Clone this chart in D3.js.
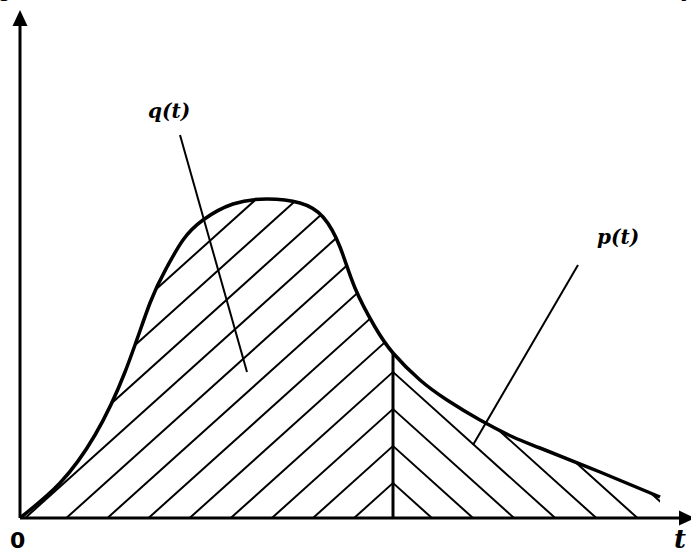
<!DOCTYPE html>
<html>
<head>
	<meta charset="utf-8">
	<script src="https://cdn.jsdelivr.net/npm/d3@7"></script>
	<style>
		body { margin: 0; background: #fff; }
		svg { display: block; }
		.lbl { font-family: "DejaVu Serif", serif; font-weight: bold; font-style: italic; }
	</style>
</head>
<body>
	<svg width="691" height="554"></svg>

	<script>
		// curve (t, value)
		var tValues = [0, 0.8, 1.5, 2.1, 2.6, 2.94, 3.26, 3.66, 4.26, 4.94, 5.6, 6.06, 6.4, 6.7, 7.1, 7.46, 8.0, 8.54, 9.2, 9.86, 10.4, 11.6, 12.8];
		var yValues = [0, 0.7, 1.66, 2.92, 4.3, 5.02, 5.56, 5.96, 6.28, 6.38, 6.3, 6.02, 5.42, 4.6, 3.82, 3.3, 2.76, 2.36, 1.96, 1.62, 1.4, 0.92, 0.42];
		var splitT = 7.46;

		// labels and their leader lines
		var labelNames = ['q(t)', 'p(t)'];
		var labelPos = [[2.56, 8.0], [11.54, 5.48]];
		var leaderLines = [[3.2, 7.66, 4.54, 2.92], [11.16, 5.06, 9.06, 1.46]];

		var svg = d3.select('svg');
		var x = d3.scaleLinear().domain([0, 13.5]).range([20, 695]);
		var y = d3.scaleLinear().domain([0, 10.16]).range([518, 10]);

		var pts = tValues.map(function(t, i) { return [t, yValues[i]]; });
		var qPts = pts.filter(function(d) { return d[0] <= splitT; });
		var pPts = pts.filter(function(d) { return d[0] >= splitT; });

		var curve = d3.curveNatural;
		var area = d3.area()
			.x(function(d) { return x(d[0]); })
			.y0(y(0))
			.y1(function(d) { return y(d[1]); })
			.curve(curve);
		var line = d3.line()
			.x(function(d) { return x(d[0]); })
			.y(function(d) { return y(d[1]); })
			.curve(curve);

		var defs = svg.append('defs');
		defs.append('clipPath').attr('id', 'clipQ').append('path').attr('d', area(qPts));
		defs.append('clipPath').attr('id', 'clipP').append('path').attr('d', area(pPts));

		// hatching, anchored on the vertical line so both families meet there
		var xv = x(splitT), y0 = y(0), slope = 0.9, step = 37;
		var hatchQ = [], hatchP = [];
		for (var k = 0; k < 14; k++) {
			var h = 35 + step * k;
			var c = xv - h / slope;
			hatchQ.push([c - 40, y0 + 40 * slope, c + 600, y0 - 600 * slope]);
			var c2 = xv + h / slope;
			hatchP.push([c2 + 40, y0 + 40 * slope, c2 - 600, y0 - 600 * slope]);
		}

		function drawHatch(data, clip) {
			svg.append('g')
				.attr('clip-path', 'url(#' + clip + ')')
				.selectAll('line')
				.data(data)
				.enter()
				.append('line')
				.attr('x1', function(d) { return d[0]; })
				.attr('y1', function(d) { return d[1]; })
				.attr('x2', function(d) { return d[2]; })
				.attr('y2', function(d) { return d[3]; })
				.attr('stroke', '#000')
				.attr('stroke-width', 2);
		}
		drawHatch(hatchQ, 'clipQ');
		drawHatch(hatchP, 'clipP');

		// the curve itself
		svg.append('path')
			.attr('d', line(pts))
			.attr('fill', 'none')
			.attr('stroke', '#000')
			.attr('stroke-width', 3.5);

		// vertical split line
		svg.append('line')
			.attr('x1', x(splitT)).attr('x2', x(splitT))
			.attr('y1', y(0)).attr('y2', y(yValues[tValues.indexOf(splitT)]))
			.attr('stroke', '#000')
			.attr('stroke-width', 3);

		// axes
		svg.append('line')
			.attr('x1', x(0)).attr('y1', y(0))
			.attr('x2', x(0)).attr('y2', y.range()[1] + 10)
			.attr('stroke', '#000').attr('stroke-width', 3);
		svg.append('line')
			.attr('x1', x(0)).attr('y1', y(0))
			.attr('x2', x.range()[1] - 10).attr('y2', y(0))
			.attr('stroke', '#000').attr('stroke-width', 3);
		var tipY = y.range()[1], tipX = x.range()[1];
		svg.append('path')
			.attr('d', 'M' + x(0) + ',' + tipY + 'L' + (x(0) - 7.5) + ',' + (tipY + 16) + 'L' + (x(0) + 7.5) + ',' + (tipY + 16) + 'Z')
			.attr('fill', '#000');
		svg.append('path')
			.attr('d', 'M' + tipX + ',' + y(0) + 'L' + (tipX - 16) + ',' + (y(0) - 7.5) + 'L' + (tipX - 16) + ',' + (y(0) + 7.5) + 'Z')
			.attr('fill', '#000');

		// leader lines
		svg.selectAll('.leader')
			.data(leaderLines)
			.enter()
			.append('line')
			.attr('class', 'leader')
			.attr('x1', function(d) { return x(d[0]); })
			.attr('y1', function(d) { return y(d[1]); })
			.attr('x2', function(d) { return x(d[2]); })
			.attr('y2', function(d) { return y(d[3]); })
			.attr('stroke', '#000')
			.attr('stroke-width', 2);

		svg.selectAll('.curveLbl')
			.data(labelNames)
			.enter()
			.append('text')
			.attr('class', 'lbl curveLbl')
			.attr('x', function(d, i) { return x(labelPos[i][0]); })
			.attr('y', function(d, i) { return y(labelPos[i][1]); })
			.style('font-size', '20px')
			.text(function(d) { return d; });

		// origin and axis name
		svg.append('text')
			.attr('x', 10).attr('y', 548)
			.style('font-family', '"DejaVu Sans", sans-serif')
			.style('font-weight', 'bold')
			.style('font-size', '22px')
			.text('0');
		svg.append('text')
			.attr('class', 'lbl')
			.attr('x', 674).attr('y', 548)
			.style('font-size', '26px')
			.text('t');

		// the heading above is cut off by the frame; only its descenders show
		var topBits = ['y', '(', ')', 'p'];
		var topX = [1, 44, 166, 681];
		svg.selectAll('.top')
			.data(topBits)
			.enter()
			.append('text')
			.attr('class', 'lbl top')
			.attr('x', function(d, i) { return topX[i]; })
			.attr('y', -4)
			.style('font-size', '24px')
			.text(function(d) { return d; });
	</script>
</body>
</html>
